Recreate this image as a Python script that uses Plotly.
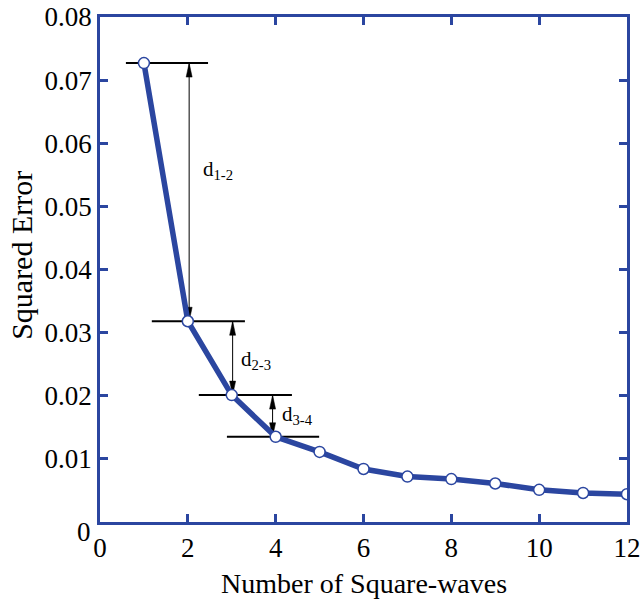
import plotly.graph_objects as go

n_waves = [1, 2, 3, 4, 5, 6, 7, 8, 9, 10, 11, 12]
sq_error = [0.0727, 0.0318, 0.0201, 0.0135, 0.0111, 0.0084, 0.0072, 0.0068, 0.0061, 0.0051, 0.0046, 0.0044]

# reference levels (horizontal guide lines): y value, x start, x end
guide_y = [0.0727, 0.0318, 0.0201, 0.0135]
guide_x0 = [0.59, 1.18, 2.25, 2.89]
guide_x1 = [2.46, 3.30, 4.37, 4.99]

# double arrows: x, y top, y bottom
arrow_x = [2.03, 3.02, 3.93]
arrow_top = [0.0727, 0.0318, 0.0201]
arrow_bot = [0.0318, 0.0201, 0.0135]
arrow_labels = ["d<sub>1-2</sub>", "d<sub>2-3</sub>", "d<sub>3-4</sub>"]
label_x = [2.68, 3.55, 4.49]
label_y = [0.0558, 0.0257, 0.0170]

x_ticks = [0, 2, 4, 6, 8, 10, 12]
y_ticks = [0.01, 0.02, 0.03, 0.04, 0.05, 0.06, 0.07, 0.08]
y_ticktext = ["0.01", "0.02", "0.03", "0.04", "0.05", "0.06", "0.07", "0.08"]

BLUE = "#2B46A0"
FONT = "Liberation Serif"
HEAD_LEN = 14
HEAD_HALF = 3

fig = go.Figure()

for y, x0, x1 in zip(guide_y, guide_x0, guide_x1):
    fig.add_shape(type="line", x0=x0, x1=x1, y0=y, y1=y, xref="x", yref="y",
                  line=dict(color="black", width=2), layer="below")

for x, yt, yb, lab, lx, ly in zip(arrow_x, arrow_top, arrow_bot, arrow_labels, label_x, label_y):
    fig.add_shape(type="line", x0=x, x1=x, y0=yb, y1=yt, xref="x", yref="y",
                  line=dict(color="black", width=1), layer="below")
    # head pointing up at top level
    fig.add_shape(type="path", xref="x", yref="y", xsizemode="pixel", ysizemode="pixel",
                  xanchor=x, yanchor=yt,
                  path=f"M0,0 L{-HEAD_HALF},{-HEAD_LEN} L{HEAD_HALF},{-HEAD_LEN} Z",
                  fillcolor="black", line=dict(color="black", width=0.5), layer="below")
    # head pointing down at bottom level
    fig.add_shape(type="path", xref="x", yref="y", xsizemode="pixel", ysizemode="pixel",
                  xanchor=x, yanchor=yb,
                  path=f"M0,0 L{-HEAD_HALF},{HEAD_LEN} L{HEAD_HALF},{HEAD_LEN} Z",
                  fillcolor="black", line=dict(color="black", width=0.5), layer="below")
    fig.add_annotation(x=lx, y=ly, xref="x", yref="y", text=lab, showarrow=False,
                       font=dict(family=FONT, size=21, color="black"))

fig.add_trace(go.Scatter(
    x=n_waves, y=sq_error, mode="lines+markers",
    line=dict(color=BLUE, width=5.5),
    marker=dict(size=11, color="white", line=dict(color=BLUE, width=1.5)),
    showlegend=False,
))

# y-axis zero label (offset like original)
fig.add_annotation(x=0, y=0, xref="paper", yref="y", text="0", showarrow=False,
                   xanchor="right", yanchor="top", xshift=-7, yshift=7,
                   font=dict(family=FONT, size=27, color="black"))

# axis titles
fig.add_annotation(x=0.5, y=-0.121, xref="paper", yref="paper", text="Number of Square-waves",
                   showarrow=False, xanchor="center", yanchor="middle",
                   font=dict(family=FONT, size=28, color="black"))
fig.add_annotation(x=-0.148, y=0.527, xref="paper", yref="paper", text="Squared Error",
                   showarrow=False, xanchor="center", yanchor="middle", textangle=-90,
                   font=dict(family=FONT, size=30, color="black"))

fig.update_xaxes(range=[0, 12], tickvals=x_ticks, ticks="inside", ticklen=8, tickwidth=2.5,
                 tickcolor=BLUE, showline=True, linecolor=BLUE, linewidth=2.5, mirror="ticks",
                 showgrid=False, zeroline=False, automargin=False,
                 tickfont=dict(family=FONT, size=27, color="black"))
fig.update_yaxes(range=[0, 0.08], tickvals=y_ticks, ticktext=y_ticktext, ticks="inside", ticklen=8,
                 tickwidth=2.5, tickcolor=BLUE, showline=True, linecolor=BLUE, linewidth=2.5,
                 mirror="ticks", showgrid=False, zeroline=False, automargin=False,
                 tickfont=dict(family=FONT, size=27, color="black"))

fig.update_layout(width=642, height=599, margin=dict(l=100, r=15, t=17, b=77),
                  plot_bgcolor="white", paper_bgcolor="white")

fig.write_html("out.html", config={"displayModeBar": False},
               post_script="document.body.style.margin='0px';")
